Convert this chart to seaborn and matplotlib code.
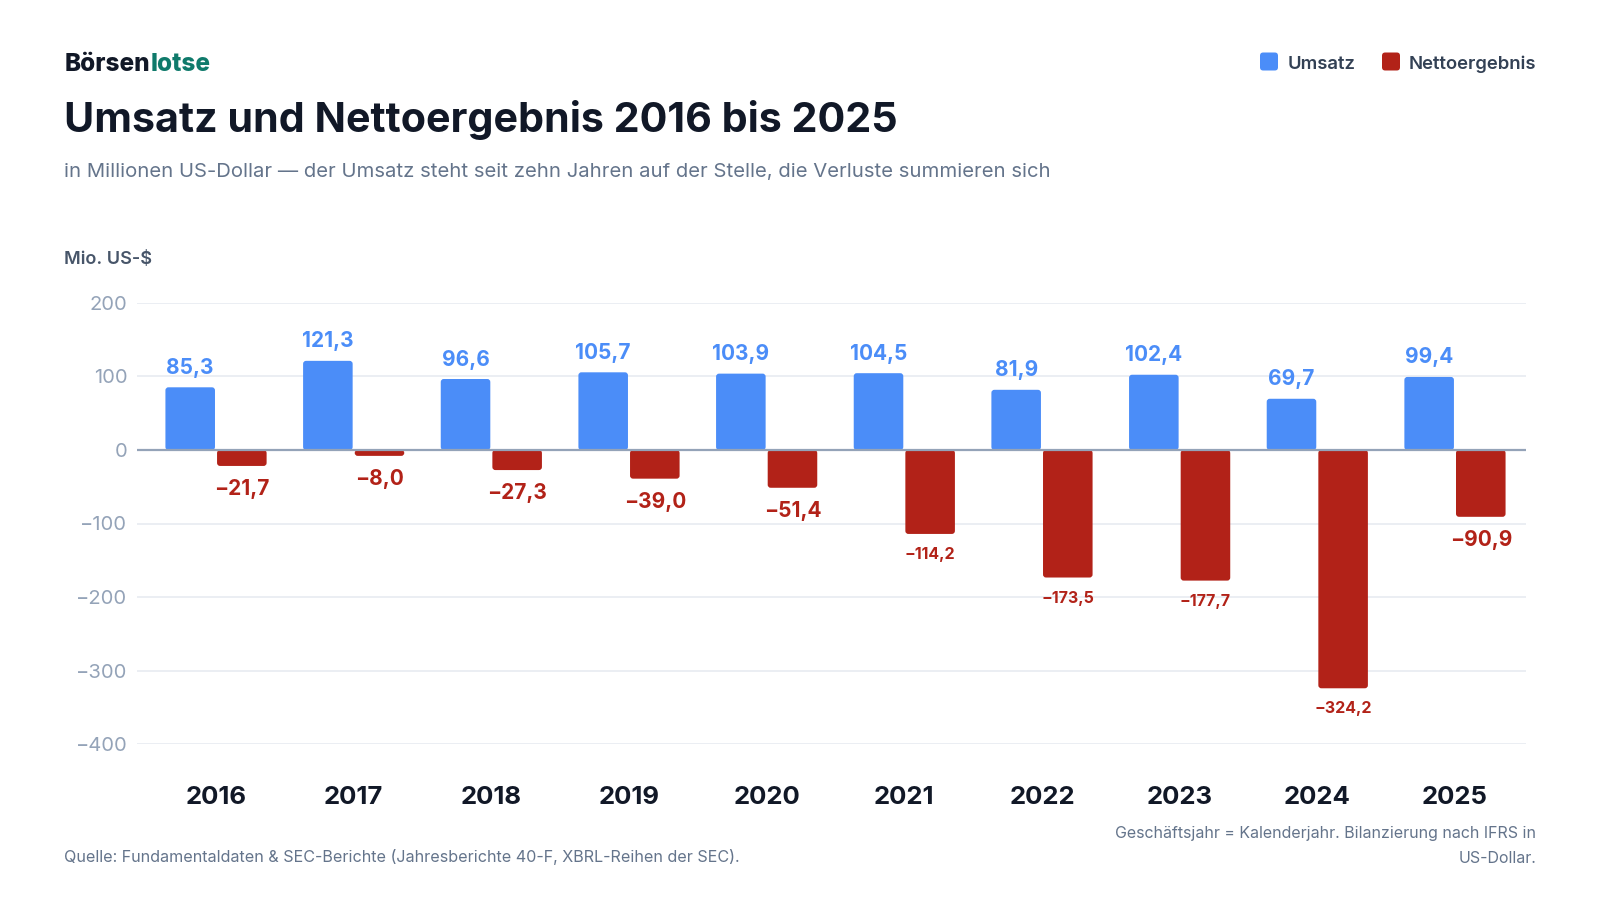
import matplotlib
matplotlib.use("Agg")
import matplotlib.pyplot as plt
from matplotlib.patches import FancyBboxPatch
import pandas as pd
import seaborn as sns

# data (Mio. US-$)
jahre = ["2016", "2017", "2018", "2019", "2020", "2021", "2022", "2023", "2024", "2025"]
umsatz = [85.3, 121.3, 96.6, 105.7, 103.9, 104.5, 81.9, 102.4, 69.7, 99.4]
netto = [-21.7, -8.0, -27.3, -39.0, -51.4, -114.2, -173.5, -177.7, -324.2, -90.9]
reihen = ["Umsatz", "Nettoergebnis"]
y_ticks = [200, 100, 0, -100, -200, -300, -400]

BLUE = "#4b8df8"
RED = "#b22218"
DARK = "#111827"
GREY = "#64748b"

df = pd.DataFrame({
    "Jahr": jahre * 2,
    "Reihe": [reihen[0]] * len(jahre) + [reihen[1]] * len(jahre),
    "Wert": umsatz + netto,
})

sns.set_theme(style="white")
plt.rcParams["font.family"] = ["Inter", "DejaVu Sans"]
plt.rcParams["axes.unicode_minus"] = True

W, H = 1600, 900
fig = plt.figure(figsize=(16, 9), dpi=100)
fig.patch.set_facecolor("white")


def fx(px):
    return px / W


def fy(py):
    return 1 - py / H


ax = fig.add_axes([fx(137), fy(744), fx(1526 - 137), fy(303) - fy(744)])

sns.barplot(data=df, x="Jahr", y="Wert", hue="Reihe", palette=[BLUE, RED],
            saturation=1, width=0.75, gap=0.04, legend=False, ax=ax, zorder=3)

# rounded bar corners
x_px = (1526 - 137) / (9.516 + 0.574)
y_px = 441 / 600
for p in list(ax.patches):
    x, y0 = p.get_x(), p.get_y()
    w, h = p.get_width(), p.get_height()
    fb = FancyBboxPatch((x, min(y0, y0 + h)), w, abs(h),
                        boxstyle=f"round,pad=0,rounding_size={3 / x_px}",
                        mutation_aspect=x_px / y_px,
                        facecolor=p.get_facecolor(), edgecolor="none", zorder=3)
    p.remove()
    ax.add_patch(fb)

ax.set_xlim(-0.574, 9.516)
ax.set_ylim(-400, 200)
ax.set_yticks(y_ticks)
ax.yaxis.grid(True, color="#e9edf2", linewidth=1.3, zorder=0)
ax.axhline(0, color="#94a3b8", linewidth=1.6, zorder=4)
for s in ax.spines.values():
    s.set_visible(False)
ax.set_xlabel("")
ax.set_ylabel("")
ax.tick_params(axis="y", length=0, pad=7, labelsize=14.5, labelcolor="#94a3b8")
ax.tick_params(axis="x", length=0, pad=30.5, labelsize=18.5, labelcolor=DARK)
for t in ax.get_xticklabels():
    t.set_fontweight("bold")


def fmt(v):
    s = f"{abs(v):.1f}".replace(".", ",")
    return ("\u2212" + s) if v < 0 else s


# value labels
off = 0.75 / 4
for i in range(len(jahre)):
    ax.annotate(fmt(umsatz[i]), (i - off, umsatz[i]),
                xytext=(0, 9.7), textcoords="offset points",
                ha="center", va="baseline", fontsize=15, fontweight="bold",
                color=BLUE, zorder=5)
    big = abs(netto[i]) >= 100
    ax.annotate(fmt(netto[i]), (i + off, netto[i]),
                xytext=(0, -18 if big else -21), textcoords="offset points",
                ha="center", va="baseline", fontsize=11.5 if big else 15,
                fontweight="bold", color=RED, zorder=5)

# header
r = fig.canvas.get_renderer()
t1 = fig.text(fx(65), fy(70.7), "Börsen", fontsize=17.5, fontweight="heavy",
              color=DARK, va="baseline")
bb = t1.get_window_extent(renderer=r)
fig.text(bb.x1 / W, fy(70.7), "lotse", fontsize=17.5, fontweight="heavy",
         color="#0f7a6b", va="baseline")
fig.text(fx(64), fy(131.7), "Umsatz und Nettoergebnis 2016 bis 2025",
         fontsize=29.7, fontweight="bold", color=DARK, va="baseline")
fig.text(fx(64), fy(176.7),
         "in Millionen US-Dollar \u2014 der Umsatz steht seit zehn Jahren auf der Stelle, "
         "die Verluste summieren sich",
         fontsize=14.6, color=GREY, va="baseline")
fig.text(fx(64), fy(264), "Mio. US-$", fontsize=13, fontweight=600,
         color="#475569", va="baseline")

# legend
for sq_x, txt_x, col, lab in [(1260, 1288, BLUE, reihen[0]), (1382, 1409, RED, reihen[1])]:
    fig.patches.append(FancyBboxPatch((fx(sq_x), fy(70.5)), fx(18), fy(52.5) - fy(70.5),
                                      boxstyle="round,pad=0,rounding_size=0.002",
                                      mutation_aspect=16 / 9,
                                      transform=fig.transFigure, facecolor=col,
                                      edgecolor="none"))
    fig.text(fx(txt_x), fy(68.7), lab, fontsize=13.3, fontweight=600,
             color="#334155", va="baseline")

# footer
fig.text(fx(64), fy(861.7),
         "Quelle: Fundamentaldaten & SEC-Berichte (Jahresberichte 40-F, XBRL-Reihen der SEC).",
         fontsize=11.6, color=GREY, va="baseline")
fig.text(fx(1536), fy(838.3), "Geschäftsjahr = Kalenderjahr. Bilanzierung nach IFRS in",
         fontsize=11.5, color=GREY, va="baseline", ha="right")
fig.text(fx(1536), fy(862.7), "US-Dollar.",
         fontsize=11.5, color=GREY, va="baseline", ha="right")

fig.savefig("out.png", dpi=100, facecolor="white")
